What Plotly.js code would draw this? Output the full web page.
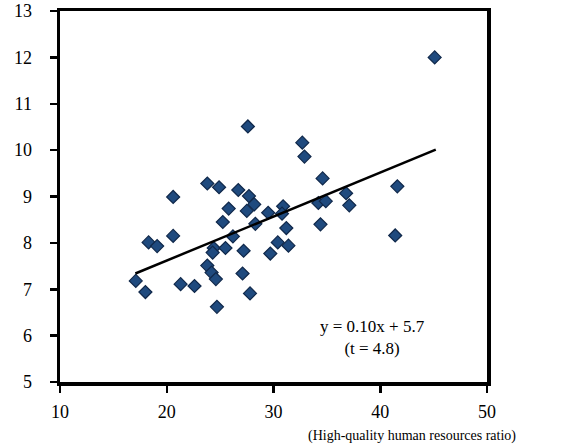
<!DOCTYPE html>
<html>
<head>
<meta charset="utf-8">
<script src="https://cdn.plot.ly/plotly-3.0.1.min.js"></script>
<style>html,body{margin:0;padding:0;background:#fff;}#chart{width:566px;height:448px;}</style>
</head>
<body>
<div id="chart"></div>
<script>
// Scatter data (High-quality human resources ratio vs. value)
const xValues = [45.1, 27.6, 32.7, 32.9, 34.6, 41.6, 23.8, 24.9, 20.6, 26.7,
                 27.7, 28.2, 25.8, 27.5, 29.5, 30.9, 30.8, 34.2, 34.9, 36.8,
                 37.1, 25.25, 28.3, 31.2, 34.4, 41.4, 20.6, 26.2, 18.3, 19.1,
                 24.4, 24.3, 25.5, 27.2, 30.4, 31.4, 29.7, 23.8, 24.2, 24.6,
                 27.1, 17.1, 21.3, 22.6, 18.0, 27.8, 24.7];
const yValues = [12.0, 10.51, 10.16, 9.86, 9.39, 9.22, 9.28, 9.2, 8.99, 9.14,
                 9.01, 8.83, 8.74, 8.69, 8.65, 8.79, 8.63, 8.86, 8.9, 9.07,
                 8.81, 8.45, 8.41, 8.32, 8.4, 8.16, 8.15, 8.14, 8.01, 7.93,
                 7.89, 7.79, 7.89, 7.83, 8.01, 7.94, 7.77, 7.51, 7.36, 7.22,
                 7.34, 7.18, 7.11, 7.07, 6.94, 6.91, 6.62];
// Fitted trend line endpoints
const trendX = [17.06, 45.2];
const trendY = [7.34, 10.01];
const xTicks = [10, 20, 30, 40, 50];
const yTicks = [5, 6, 7, 8, 9, 10, 11, 12, 13];
const equationText = 'y = 0.10x + 5.7<br>(t = 4.8)';
const xTitleText = '(High-quality human resources ratio)';

const serif = 'Liberation Serif';

const traces = [
  {
    x: xValues, y: yValues, type: 'scatter', mode: 'markers',
    marker: {symbol: 'diamond', size: 10, color: '#1F4A7E',
             line: {color: '#10284A', width: 1.2}},
    showlegend: false, hoverinfo: 'x+y'
  },
  {
    x: trendX, y: trendY, type: 'scatter', mode: 'lines',
    line: {color: '#000000', width: 2.5},
    showlegend: false, hoverinfo: 'skip'
  }
];

const layout = {
  width: 566, height: 448,
  margin: {l: 60, r: 79, t: 11, b: 66},
  paper_bgcolor: '#ffffff', plot_bgcolor: '#ffffff',
  font: {family: serif, size: 18, color: '#000000'},
  xaxis: {
    range: [10, 50], tickvals: xTicks, ticktext: xTicks.map(String),
    showgrid: false, zeroline: false,
    showline: true, linecolor: '#000000', linewidth: 3.5, mirror: true,
    ticks: 'outside', ticklen: 7, tickwidth: 2.5, tickcolor: '#000000',
    tickfont: {family: serif, size: 18, color: '#000000'},
    ticklabelstandoff: 4
  },
  yaxis: {
    range: [5, 13], tickvals: yTicks, ticktext: yTicks.map(String),
    showgrid: false, zeroline: false,
    showline: true, linecolor: '#000000', linewidth: 3.5, mirror: true,
    ticks: 'outside', ticklen: 7, tickwidth: 2.5, tickcolor: '#000000',
    tickfont: {family: serif, size: 18, color: '#000000'},
    ticklabelstandoff: 14
  },
  annotations: [
    {
      text: equationText, xref: 'x', yref: 'y', x: 39.3, y: 5.95,
      xanchor: 'center', yanchor: 'middle', showarrow: false, align: 'center',
      font: {family: serif, size: 17, color: '#000000'}
    },
    {
      text: xTitleText, xref: 'paper', yref: 'paper', x: 1.072, y: -0.145,
      xanchor: 'right', yanchor: 'middle', showarrow: false,
      font: {family: serif, size: 14, color: '#000000'}
    }
  ]
};

Plotly.newPlot('chart', traces, layout, {displayModeBar: false, staticPlot: true});
</script>
</body>
</html>
